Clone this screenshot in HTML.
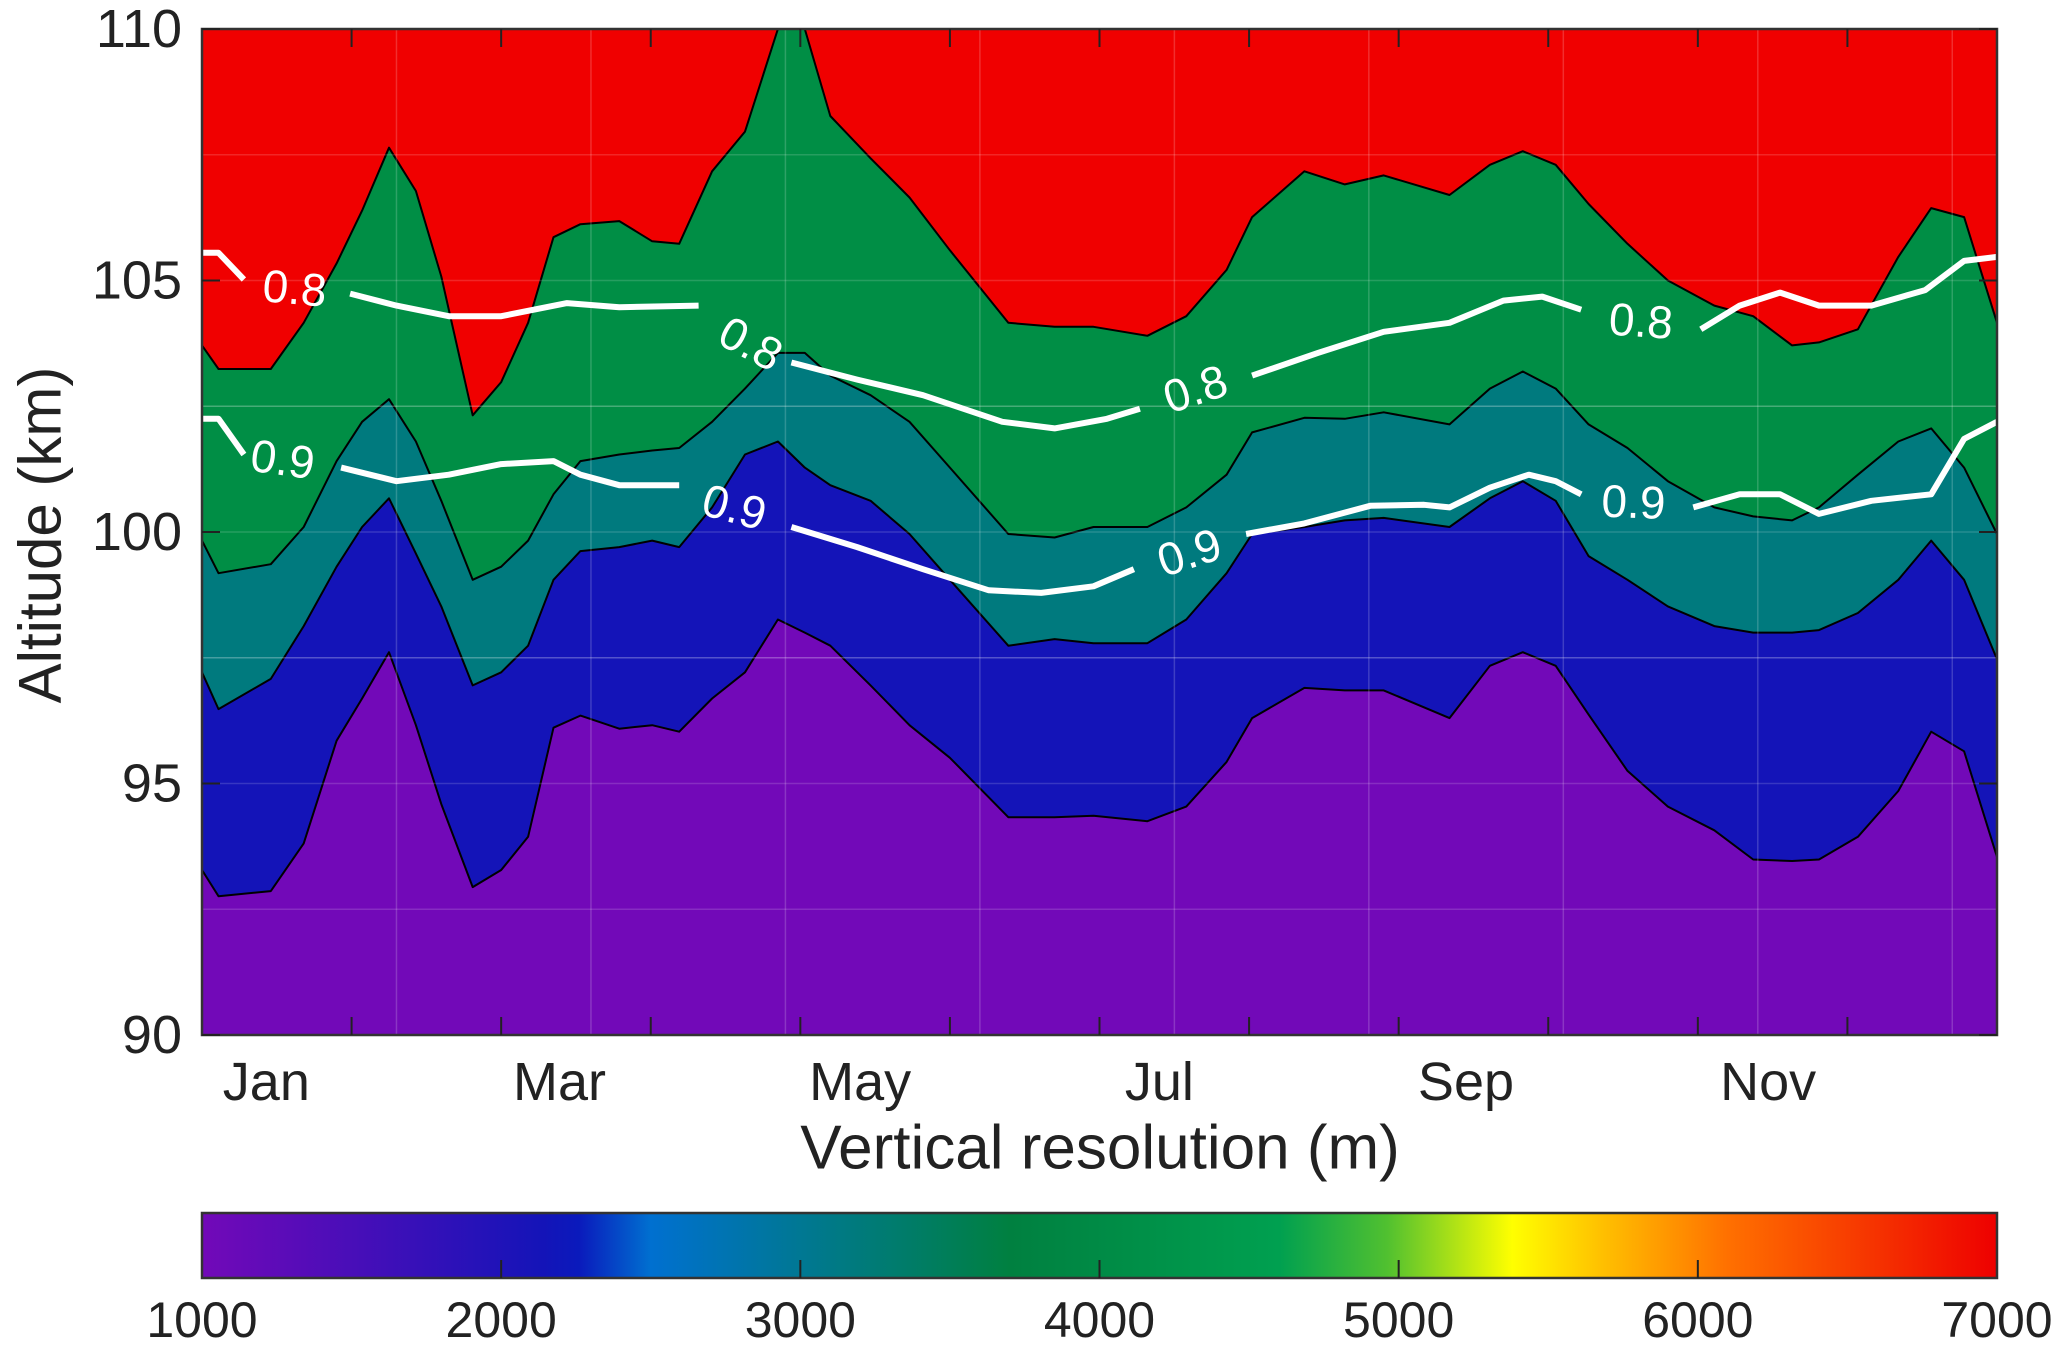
<!DOCTYPE html>
<html><head><meta charset="utf-8">
<style>
html,body{margin:0;padding:0;background:#fff;}
svg{display:block;font-family:"Liberation Sans",sans-serif;}
</style></head>
<body>
<svg id="chart" width="2067" height="1354" viewBox="0 0 2067 1354" xmlns="http://www.w3.org/2000/svg">
<defs>
<linearGradient id="cmap" x1="0" x2="1" y1="0" y2="0">
<stop offset="0" stop-color="#7209b8"/>
<stop offset="0.19" stop-color="#1414b8"/>
<stop offset="0.21" stop-color="#0a1abc"/>
<stop offset="0.25" stop-color="#0070d0"/>
<stop offset="0.36" stop-color="#007a80"/>
<stop offset="0.45" stop-color="#008040"/>
<stop offset="0.6" stop-color="#00a050"/>
<stop offset="0.66" stop-color="#50c030"/>
<stop offset="0.73" stop-color="#ffff00"/>
<stop offset="0.78" stop-color="#ffc000"/>
<stop offset="0.85" stop-color="#ff7000"/>
<stop offset="1" stop-color="#ee0000"/>
</linearGradient>
</defs>
<g id="plot"></g>
<g id="axes"></g>
</svg>
<script>
const months = [0,0.11,0.46,0.68,0.90,1.07,1.25,1.43,1.60,1.81,2.00,2.18,2.35,2.53,2.79,3.01,3.19,3.41,3.63,3.85,4.03,4.20,4.47,4.73,5.00,5.39,5.70,5.96,6.32,6.58,6.85,7.02,7.37,7.64,7.90,8.34,8.61,8.83,9.05,9.27,9.53,9.80,10.11,10.37,10.63,10.81,11.07,11.34,11.56,11.78,12.0];
const b2000 = [93.28,92.76,92.86,93.81,95.85,96.69,97.61,96.16,94.59,92.94,93.28,93.94,96.11,96.35,96.09,96.16,96.03,96.69,97.21,98.26,98.0,97.74,96.95,96.16,95.51,94.33,94.33,94.36,94.25,94.54,95.43,96.30,96.9,96.85,96.85,96.30,97.34,97.61,97.34,96.37,95.25,94.54,94.07,93.49,93.46,93.49,93.94,94.85,96.03,95.64,93.54];
const b3000 = [97.21,96.48,97.08,98.13,99.31,100.1,100.67,99.57,98.52,96.95,97.21,97.74,99.05,99.62,99.70,99.83,99.70,100.49,101.54,101.8,101.28,100.93,100.62,99.96,99.05,97.74,97.87,97.79,97.79,98.26,99.18,99.96,100.1,100.23,100.28,100.1,100.67,101.01,100.62,99.52,99.05,98.52,98.13,98.0,98.0,98.05,98.39,99.05,99.83,99.05,97.47];
const b3500 = [99.83,99.18,99.36,100.1,101.41,102.19,102.64,101.8,100.62,99.05,99.31,99.83,100.75,101.41,101.54,101.62,101.67,102.19,102.85,103.56,103.56,103.11,102.72,102.19,101.28,99.96,99.89,100.1,100.1,100.49,101.14,101.98,102.27,102.25,102.38,102.14,102.85,103.19,102.85,102.14,101.67,101.01,100.49,100.31,100.23,100.49,101.14,101.8,102.06,101.28,99.96];
const b4500 = [103.71,103.24,103.24,104.16,105.34,106.39,107.64,106.78,105.08,102.32,102.98,104.16,105.86,106.12,106.18,105.78,105.73,107.17,107.96,110,110,108.27,107.43,106.65,105.6,104.16,104.08,104.08,103.9,104.29,105.21,106.26,107.17,106.91,107.09,106.7,107.3,107.57,107.3,106.52,105.73,105.0,104.5,104.29,103.71,103.77,104.03,105.47,106.44,106.26,104.16];
const c08x = [0,0.11,0.28,null,0.99,1.30,1.65,2.0,2.44,2.79,3.32,null,3.94,4.38,4.82,5.35,5.70,6.05,6.27,null,7.02,7.46,7.90,8.34,8.70,8.96,9.22,null,10.02,10.28,10.55,10.81,11.16,11.52,11.78,12];
const c08y = [105.55,105.55,105.02,null,104.74,104.5,104.29,104.29,104.55,104.47,104.5,null,103.37,103.03,102.72,102.19,102.06,102.25,102.45,null,103.11,103.56,103.98,104.16,104.6,104.68,104.42,null,104.03,104.5,104.76,104.5,104.5,104.81,105.39,105.47];
const c09x = [0,0.11,0.28,null,0.93,1.30,1.65,2.0,2.35,2.53,2.79,3.19,null,3.94,4.38,4.82,5.26,5.61,5.96,6.23,null,6.98,7.37,7.81,8.17,8.34,8.61,8.87,9.05,9.22,null,9.97,10.28,10.55,10.81,11.16,11.56,11.78,12];
const c09y = [102.25,102.25,101.54,null,101.28,101.01,101.14,101.35,101.41,101.14,100.93,100.93,null,100.1,99.70,99.26,98.84,98.79,98.92,99.26,null,99.96,100.17,100.52,100.54,100.49,100.88,101.14,101.01,100.75,null,100.49,100.75,100.75,100.36,100.62,100.75,101.85,102.19];
const labelText = ["0.8","0.8","0.8","0.8","0.9","0.9","0.9","0.9"];
const labelX = [0.62,3.67,6.64,9.62,0.54,3.56,6.60,9.57];
const labelY = [104.85,103.75,102.85,104.2,101.45,100.5,99.6,100.6];
const labelRot = [5,28,-18,4,8,15,-18,2];
const yTicks = [90,95,100,105,110];
const monthLabels = ["Jan","Mar","May","Jul","Sep","Nov"];
const monthLabelPos = [0.43,2.39,4.40,6.40,8.45,10.47];
const cbTicks = [1000,2000,3000,4000,5000,6000,7000];

const L=202,R=1997,T=29,B=1035;
const X=m=>L+(m/12)*(R-L);
const Y=k=>B-(k-90)/20*(B-T);
const NS='http://www.w3.org/2000/svg';
function mk(tag,attrs,parent){const e=document.createElementNS(NS,tag);for(const k in attrs)e.setAttribute(k,attrs[k]);parent.appendChild(e);return e;}
const plot=document.getElementById('plot'), axes=document.getElementById('axes');

let bg=mk('rect',{x:L,y:T,width:R-L,height:B-T,fill:'#f00000'},plot);


const layers=[[b4500,'#008e45','region-3500-4500'],[b3500,'#007a7e','region-3000-3500'],[b3000,'#1414b8','region-2000-3000'],[b2000,'#7209b8','region-below-2000']];
layers.forEach(([arr,col,name])=>{
  let d='M'+X(months[0])+','+Y(arr[0]);
  for(let i=1;i<months.length;i++)d+=' L'+X(months[i]).toFixed(1)+','+Y(arr[i]).toFixed(1);
  d+=' L'+R+','+B+' L'+L+','+B+' Z';
  const p=mk('path',{d:d,fill:col,stroke:'#000','stroke-width':2,'stroke-linejoin':'round'},plot);
  
  
});
// grid
for(let i=1;i<=9;i++){const gx=L+i*(R-L)/9.23;const g=mk('line',{x1:gx,x2:gx,y1:T,y2:B,stroke:'#fff','stroke-opacity':0.18,'stroke-width':1.5},plot);

}
yTicks.slice(1,-1).forEach(v=>{for(const o of [-2.5,0,2.5]){const gy=Y(v+o);const g=mk('line',{x1:L,x2:R,y1:gy,y2:gy,stroke:'#fff','stroke-opacity':0.15,'stroke-width':1.5},plot);

}});
// contour lines
[[c08x,c08y,'contour-0.8'],[c09x,c09y,'contour-0.9']].forEach(([xs,ys,name])=>{
  let d='',pen=false;
  for(let i=0;i<xs.length;i++){if(xs[i]===null){pen=false;continue;}d+=(pen?' L':' M')+X(xs[i]).toFixed(1)+','+Y(ys[i]).toFixed(1);pen=true;}
  const p=mk('path',{d:d,fill:'none',stroke:'#fff','stroke-width':6,'stroke-linejoin':'round'},plot);
  
  
});
labelText.forEach((t,i)=>{
  const x=X(labelX[i]),y=Y(labelY[i]);
  const e=mk('text',{x:x,y:y,fill:'#fff','font-size':46,'text-anchor':'middle','dominant-baseline':'central',transform:`rotate(${labelRot[i]} ${x} ${y})`},plot);
  e.textContent=t;
  
  
});
// frame
let fr=mk('rect',{x:L,y:T,width:R-L,height:B-T,fill:'none',stroke:'#333','stroke-width':2.5},axes);


for(let m=1;m<12;m++){const tx=X(m);
  const a=mk('line',{x1:tx,x2:tx,y1:B,y2:B-18,stroke:'#222','stroke-width':2},axes);
  
  
  const b=mk('line',{x1:tx,x2:tx,y1:T,y2:T+18,stroke:'#222','stroke-width':2},axes);
  
  }
yTicks.forEach(v=>{const ty=Y(v);
  const a=mk('line',{x1:L,x2:L+18,y1:ty,y2:ty,stroke:'#222','stroke-width':2},axes);
  
  
  const b=mk('line',{x1:R,x2:R-18,y1:ty,y2:ty,stroke:'#222','stroke-width':2},axes);
  
  
  const t=mk('text',{x:182,y:ty,'font-size':54,fill:'#222','text-anchor':'end','dominant-baseline':'central'},axes);
  t.textContent=v;
  
  });
monthLabels.forEach((m,i)=>{
  const t=mk('text',{x:X(monthLabelPos[i]),y:1082,'font-size':54,fill:'#222','text-anchor':'middle','dominant-baseline':'central'},axes);
  t.textContent=m;
  
  });
let xt=mk('text',{x:1100,y:1148,'font-size':62,fill:'#222','text-anchor':'middle','dominant-baseline':'central'},axes);
xt.textContent='Vertical resolution (m)';


let yt=mk('text',{x:40,y:535,'font-size':60,fill:'#222','text-anchor':'middle','dominant-baseline':'central',transform:'rotate(-90 40 535)'},axes);
yt.textContent='Altitude (km)';


// colorbar
const CT=1213,CB=1278;
let cb=mk('rect',{x:L,y:CT,width:R-L,height:CB-CT,fill:'url(#cmap)',stroke:'#333','stroke-width':2.5},axes);


const CX=v=>L+(v-1000)/6000*(R-L);
cbTicks.forEach(v=>{const tx=CX(v);
  if(v>1000&&v<7000){const a=mk('line',{x1:tx,x2:tx,y1:CB,y2:CB-18,stroke:'#222','stroke-width':2},axes);
  
  }
  const t=mk('text',{x:tx,y:1320,'font-size':50,fill:'#222','text-anchor':'middle','dominant-baseline':'central'},axes);
  t.textContent=v;
  
  });
</script>
</body></html>
